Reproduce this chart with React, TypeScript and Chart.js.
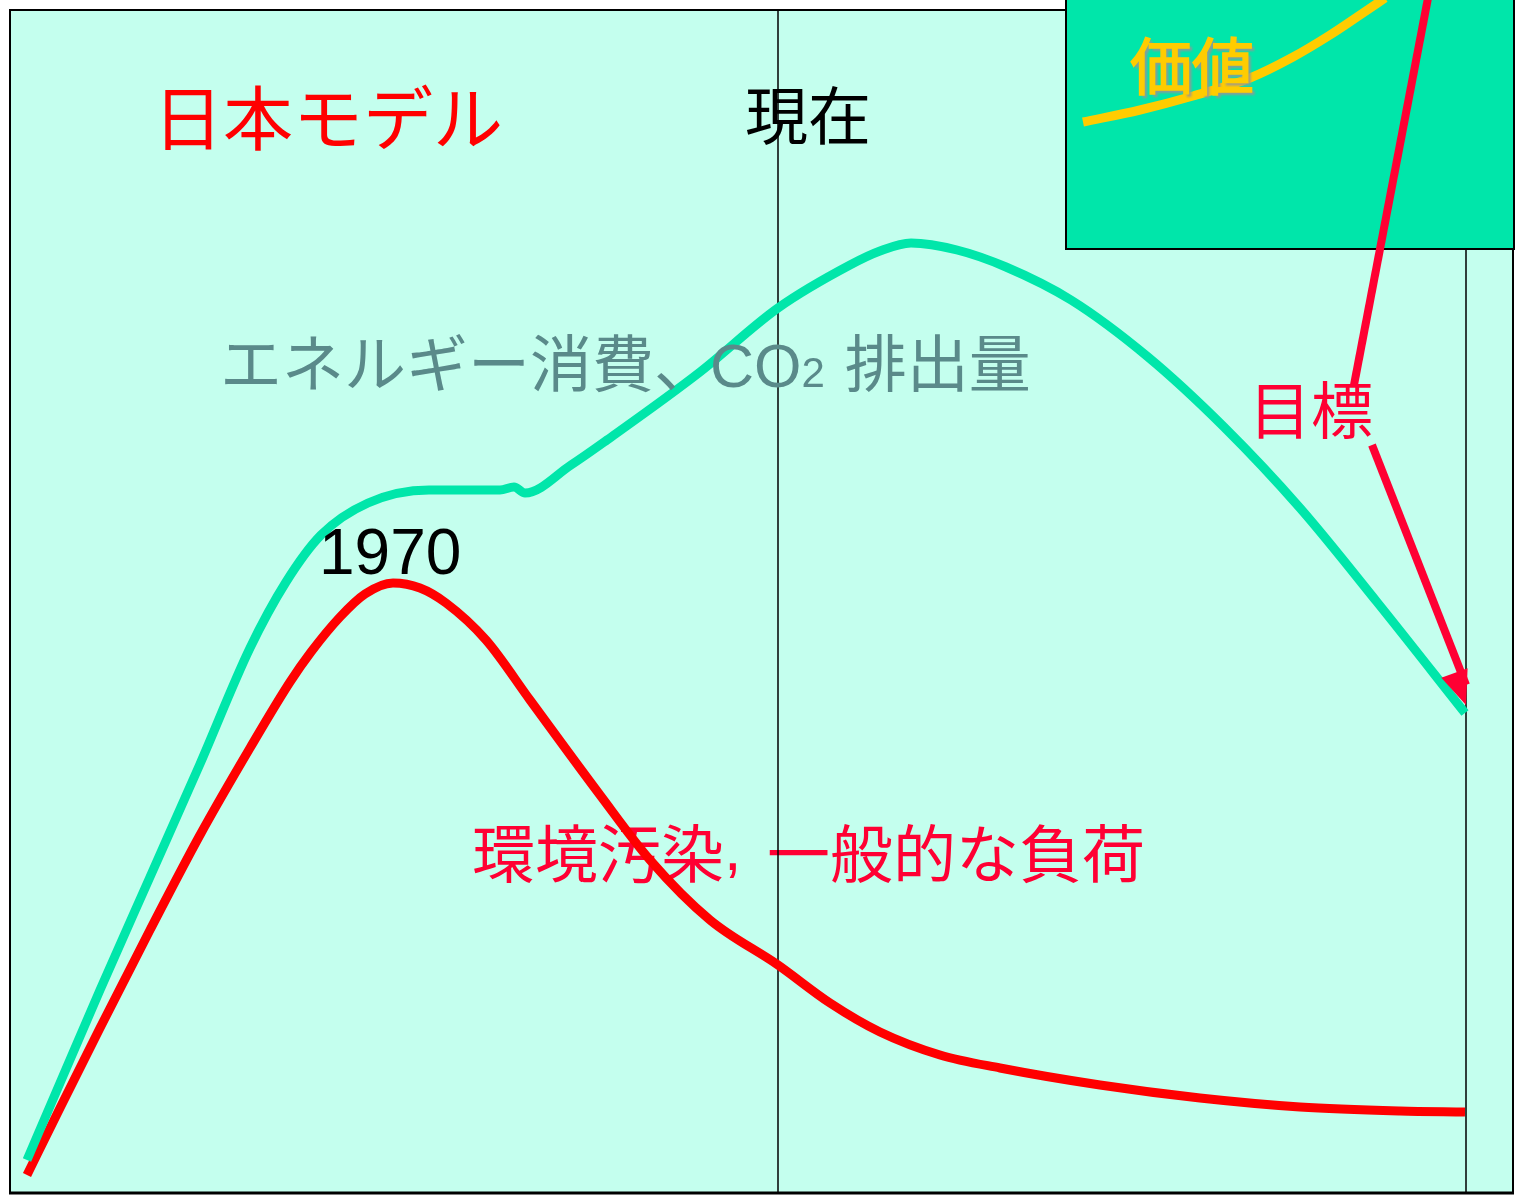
import React, { useEffect, useRef } from "react";
import { Chart, registerables } from "chart.js";

Chart.register(...registerables);

// Conceptual axes: time (x) and level (y)
const energyX = [27, 60, 100, 150, 200, 250, 286, 321, 368, 429, 500, 514, 525, 571, 607, 700, 778, 850, 880, 911, 957, 1006, 1071, 1148, 1224, 1300, 1377, 1465];
const energyY = [37, 114, 207, 320, 433, 549, 615, 662, 694, 707, 707, 710, 704, 732, 757, 825, 889, 932, 946, 954, 947, 930, 897, 840, 770, 689, 595, 484];

const pollutionX = [27, 60, 100, 150, 200, 250, 290, 311, 340, 365, 393, 420, 446, 486, 530, 600, 650, 710, 778, 830, 880, 940, 1000, 1100, 1200, 1300, 1400, 1465];
const pollutionY = [22, 89, 169, 267, 362, 449, 515, 545, 580, 603, 614, 609, 594, 557, 497, 402, 337, 277, 232, 194, 165, 142, 129, 112, 99, 90, 86, 85];

const valueX = [1083, 1140, 1193, 1250, 1293, 1330, 1360, 1385];
const valueY = [1075, 1087, 1101, 1119, 1140, 1162, 1182, 1199];

const targetUpperX = [1428, 1354];
const targetUpperY = [1199, 812];
const targetLowerX = [1372, 1466];
const targetLowerY = [752, 492];

const X_MAX = 1517;
const Y_MAX = 1197;

const frameX = [10, 1513];
const frameY = [4, 1187];
const insetX = [1066, 1514];
const insetY = [948, 1198];
const dividerX = [778, 1466];

type Lbl = { text: string; x: number; y: number; size: number; color: string; shadow?: boolean };
const labelsTop: Lbl[] = [
  { text: "日本モデル", x: 153, y: 1079, size: 70, color: "#FF0000" },
  { text: "現在", x: 745, y: 1082, size: 63, color: "#000000" },
  { text: "価値", x: 1130, y: 1131, size: 62, color: "#FFCC00", shadow: true },
  { text: "目標", x: 1249, y: 787, size: 62, color: "#FF0033" },
];
const pollutionLabel = { left: "環境汚染", comma: ", ", right: "一般的な負荷", x: 472, y: 344, size: 63, color: "#FF0033" };
const yearLabel = { text: "1970", x: 319, y: 641, size: 64, color: "#000000" };
const energyLabel = { pre: "エネルギー消費、", co: "CO", sub: "2", post: " 排出量", x: 220, y: 832, size: 62, color: "#5A8A8A" };

const JP = '"Noto Sans CJK JP", sans-serif';
const LAT = '"Liberation Sans", Arial, sans-serif';

const pts = (xs: number[], ys: number[]) => xs.map((x, i) => ({ x, y: ys[i] }));

export default function App() {
  const ref = useRef<HTMLCanvasElement>(null);
  useEffect(() => {
    if (!ref.current) return;
    const drawLabel = (ctx: CanvasRenderingContext2D, c: any, l: Lbl) => {
      const px = c.scales.x.getPixelForValue(l.x);
      const py = c.scales.y.getPixelForValue(l.y);
      ctx.font = `${l.size}px ${JP}`;
      ctx.textBaseline = "middle";
      ctx.textAlign = "left";
      if (l.shadow) {
        ctx.save();
        ctx.fillStyle = "rgba(150,150,150,0.9)";
        ctx.filter = "blur(1px)";
        ctx.fillText(l.text, px + 3, py + 3);
        ctx.restore();
        ctx.lineWidth = 1.5;
        ctx.strokeStyle = l.color;
        ctx.strokeText(l.text, px, py);
      }
      ctx.fillStyle = l.color;
      ctx.fillText(l.text, px, py);
    };
    const decor = {
      id: "decor",
      beforeDatasetsDraw(c: any) {
        const ctx = c.ctx as CanvasRenderingContext2D;
        const xs = c.scales.x, ys = c.scales.y;
        const fx0 = xs.getPixelForValue(frameX[0]), fx1 = xs.getPixelForValue(frameX[1]);
        const fy0 = ys.getPixelForValue(frameY[1]), fy1 = ys.getPixelForValue(frameY[0]);
        ctx.save();
        ctx.fillStyle = "#C4FFEE";
        ctx.fillRect(fx0, fy0, fx1 - fx0, fy1 - fy0);
        // pollution label (under the curves)
        {
          let px = xs.getPixelForValue(pollutionLabel.x);
          const py = ys.getPixelForValue(pollutionLabel.y);
          ctx.fillStyle = pollutionLabel.color;
          ctx.textBaseline = "middle";
          ctx.textAlign = "left";
          ctx.font = `${pollutionLabel.size}px ${JP}`;
          ctx.fillText(pollutionLabel.left, px, py);
          px += ctx.measureText(pollutionLabel.left).width;
          ctx.font = `${pollutionLabel.size}px ${LAT}`;
          ctx.fillText(pollutionLabel.comma, px, py);
          px += ctx.measureText(pollutionLabel.comma).width + 8;
          ctx.font = `${pollutionLabel.size}px ${JP}`;
          ctx.fillText(pollutionLabel.right, px, py);
        }
        // dividers
        ctx.strokeStyle = "#000";
        ctx.lineWidth = 1.5;
        const iy1 = ys.getPixelForValue(insetY[0]);
        ctx.beginPath();
        ctx.moveTo(xs.getPixelForValue(dividerX[0]), fy0);
        ctx.lineTo(xs.getPixelForValue(dividerX[0]), fy1);
        ctx.moveTo(xs.getPixelForValue(dividerX[1]), iy1);
        ctx.lineTo(xs.getPixelForValue(dividerX[1]), fy1);
        ctx.stroke();
        // frame
        ctx.lineWidth = 2;
        ctx.strokeRect(fx0, fy0, fx1 - fx0, fy1 - fy0);
        ctx.lineWidth = 3;
        ctx.beginPath();
        ctx.moveTo(fx0 - 1, fy1);
        ctx.lineTo(fx1 + 1, fy1);
        ctx.stroke();
        // inset box
        const ix0 = xs.getPixelForValue(insetX[0]), ix1 = xs.getPixelForValue(insetX[1]);
        const iy0 = ys.getPixelForValue(insetY[1]);
        ctx.fillStyle = "#00E6AA";
        ctx.fillRect(ix0, iy0, ix1 - ix0, iy1 - iy0);
        ctx.lineWidth = 2;
        ctx.strokeRect(ix0, iy0, ix1 - ix0, iy1 - iy0);
        ctx.restore();
      },
      afterDatasetsDraw(c: any) {
        const ctx = c.ctx as CanvasRenderingContext2D;
        const xs = c.scales.x, ys = c.scales.y;
        ctx.save();
        // arrowhead
        const tx = xs.getPixelForValue(targetLowerX[1]), ty = ys.getPixelForValue(targetLowerY[1]);
        const sx = xs.getPixelForValue(targetLowerX[0]), sy = ys.getPixelForValue(targetLowerY[0]);
        const ang = Math.atan2(ty - sy, tx - sx);
        const len = 34, half = 14;
        const bx = tx - len * Math.cos(ang), by = ty - len * Math.sin(ang);
        ctx.fillStyle = "#FF0033";
        ctx.beginPath();
        ctx.moveTo(tx, ty);
        ctx.lineTo(bx + half * Math.sin(ang), by - half * Math.cos(ang));
        ctx.lineTo(bx - half * Math.sin(ang), by + half * Math.cos(ang));
        ctx.closePath();
        ctx.fill();
        for (const l of labelsTop) drawLabel(ctx, c, l);
        // 1970
        ctx.textBaseline = "middle";
        ctx.textAlign = "left";
        ctx.fillStyle = yearLabel.color;
        ctx.font = `${yearLabel.size}px ${LAT}`;
        ctx.fillText(yearLabel.text, xs.getPixelForValue(yearLabel.x), ys.getPixelForValue(yearLabel.y));
        // energy label
        let px = xs.getPixelForValue(energyLabel.x);
        const py = ys.getPixelForValue(energyLabel.y);
        ctx.fillStyle = energyLabel.color;
        ctx.textBaseline = "alphabetic";
        const base = py + energyLabel.size * 0.36;
        ctx.font = `${energyLabel.size}px ${JP}`;
        ctx.fillText(energyLabel.pre, px, base);
        px += ctx.measureText(energyLabel.pre).width - 6;
        ctx.font = `${Math.round(energyLabel.size * 0.98)}px ${LAT}`;
        ctx.fillText(energyLabel.co, px, base);
        px += ctx.measureText(energyLabel.co).width;
        ctx.font = `${Math.round(energyLabel.size * 0.68)}px ${LAT}`;
        ctx.fillText(energyLabel.sub, px, base);
        px += ctx.measureText(energyLabel.sub).width + 6;
        ctx.font = `${energyLabel.size}px ${JP}`;
        ctx.fillText(energyLabel.post, px, base);
        ctx.restore();
      },
    };
    const line = (xs: number[], ys: number[], color: string, smooth: boolean, w = 9) => ({
      data: pts(xs, ys),
      borderColor: color,
      borderWidth: w,
      borderCapStyle: "butt" as const,
      borderJoinStyle: "round" as const,
      pointRadius: 0,
      fill: false,
      tension: smooth ? 0.4 : 0,
      cubicInterpolationMode: smooth ? ("monotone" as const) : ("default" as const),
      clip: false as any,
    });
    const chart = new Chart(ref.current, {
      type: "line",
      data: {
        datasets: [
          line(energyX, energyY, "#00E6AA", true),
          line(pollutionX, pollutionY, "#FF0000", true),
          line(valueX, valueY, "#FFCC00", true),
          line(targetUpperX, targetUpperY, "#FF0033", false, 8),
          line(targetLowerX, targetLowerY.map((v, i) => (i === 1 ? v + 20 : v)), "#FF0033", false, 8),
        ],
      },
      options: {
        animation: false,
        responsive: false,
        devicePixelRatio: 1,
        layout: { padding: 0 },
        plugins: { legend: { display: false }, tooltip: { enabled: false } },
        scales: {
          x: { type: "linear", min: 0, max: X_MAX, display: false },
          y: { type: "linear", min: 0, max: Y_MAX, display: false },
        },
      },
      plugins: [decor],
    });
    return () => chart.destroy();
  }, []);
  return (
    <div style={{ position: "absolute", left: 0, top: 0, width: X_MAX, height: Y_MAX, background: "#fff" }}>
      <canvas ref={ref} width={X_MAX} height={Y_MAX} />
    </div>
  );
}
